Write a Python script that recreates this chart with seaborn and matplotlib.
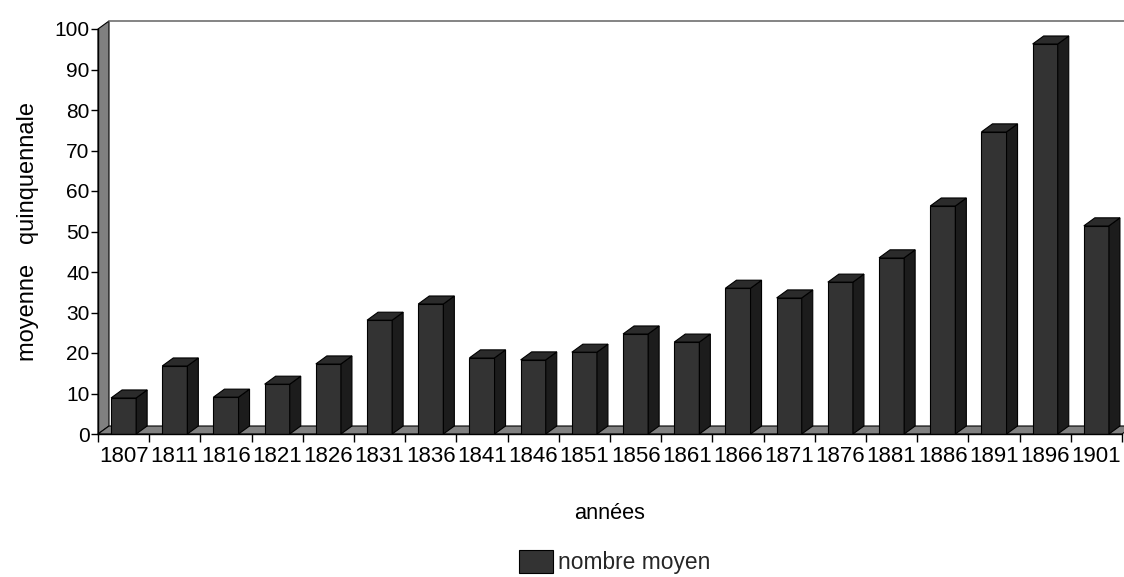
import matplotlib
matplotlib.use("Agg")
import matplotlib.pyplot as plt
import pandas as pd
import seaborn as sns
from matplotlib.patches import Polygon
from matplotlib import font_manager

# Moyenne quinquennale par période
annees = ["1807", "1811", "1816", "1821", "1826", "1831", "1836", "1841", "1846", "1851",
          "1856", "1861", "1866", "1871", "1876", "1881", "1886", "1891", "1896", "1901"]
valeurs = [8.9, 16.8, 9.1, 12.3, 17.3, 28.1, 32.1, 18.8, 18.3, 20.2,
           24.7, 22.7, 36.0, 33.6, 37.5, 43.5, 56.3, 74.6, 96.3, 51.4]
serie = "nombre moyen"
graduations = list(range(0, 101, 10))

sns.set_theme(style="ticks")
plt.rcParams["font.family"] = ["Liberation Sans", "DejaVu Sans"]

# narrow face for the year labels when available
noms = {f.name for f in font_manager.fontManager.ttflist}
etroite = "Liberation Sans Narrow" if "Liberation Sans Narrow" in noms else None

W, H = 1124, 577
fig = plt.figure(figsize=(W / 100, H / 100), dpi=100)
ax = fig.add_axes([98 / W, 143 / H, 1024 / W, 405 / H])

df = pd.DataFrame({"année": annees, "valeur": valeurs, "série": serie})
sns.barplot(data=df, x="année", y="valeur", hue="série", palette=["#333333"],
            saturation=1, width=0.49, edgecolor="black", linewidth=0.8,
            ax=ax, zorder=3)
barres = [p for c in ax.containers for p in c]

ax.set_xlim(-0.5, len(annees) - 0.5)
ax.set_ylim(0, 100)

# depth of the pseudo-3D look, in data units
DX = 11 / (1024 / len(annees))
DY = 8 / 4.05

grey = "#808080"
x0, x1 = -0.5, len(annees) - 0.5
# left wall
ax.add_patch(Polygon([(x0, 0), (x0, 100), (x0 + DX, 100 + DY), (x0 + DX, DY)],
                     closed=True, fc=grey, ec="black", lw=0.8, zorder=1, clip_on=False))
# floor
ax.add_patch(Polygon([(x0, 0), (x1, 0), (x1 + DX, DY), (x0 + DX, DY)],
                     closed=True, fc=grey, ec="black", lw=0.8, zorder=1, clip_on=False))
# top edge of the back wall
ax.plot([x0 + DX, x1 + DX + 1], [100 + DY, 100 + DY], color="#707070", lw=1.2,
        zorder=1, clip_on=False)

# top and side faces of every column
for p in barres:
    bx, bw, bh = p.get_x(), p.get_width(), p.get_height()
    top = Polygon([(bx, bh), (bx + bw, bh), (bx + bw + DX, bh + DY), (bx + DX, bh + DY)],
                  closed=True, fc="#2b2b2b", ec="black", lw=0.8, zorder=4, clip_on=False)
    side = Polygon([(bx + bw, 0), (bx + bw, bh), (bx + bw + DX, bh + DY), (bx + bw + DX, DY)],
                   closed=True, fc="#1c1c1c", ec="black", lw=0.8, zorder=4, clip_on=False)
    ax.add_patch(side)
    ax.add_patch(top)

for s in ("top", "right"):
    ax.spines[s].set_visible(False)
for s in ("left", "bottom"):
    ax.spines[s].set_color("black")
    ax.spines[s].set_linewidth(1.0)
    ax.spines[s].set_zorder(5)

ax.set_yticks(graduations)
ax.set_yticklabels([str(g) for g in graduations])
ax.tick_params(axis="y", left=True, direction="out", length=5, width=1,
               color="black", labelsize=15, pad=1, labelcolor="black")
ax.tick_params(axis="x", which="major", bottom=True, length=0,
               pad=9, labelcolor="black")
ax.set_xticks([i - 0.5 for i in range(len(annees) + 1)], minor=True)
ax.tick_params(axis="x", which="minor", bottom=True, direction="out", length=6,
               width=1, color="black")
for t in ax.get_xticklabels():
    if etroite:
        t.set_fontfamily([etroite, "Liberation Sans"])
        t.set_fontsize(18)
    else:
        t.set_fontsize(16)

ax.set_xlabel("années", fontsize=15.7, labelpad=25.5, color="black")
ax.set_ylabel("moyenne   quinquennale", fontsize=17, labelpad=11, color="black")

handles, labels = ax.get_legend_handles_labels()
if ax.get_legend() is not None:
    ax.get_legend().remove()
fig.legend(handles, labels, loc="center", bbox_to_anchor=(614.5 / W, 1 - 562 / H),
           frameon=False, fontsize=16.4, handlelength=1.5, handleheight=1.18,
           handletextpad=0.22)

fig.savefig("out.png", dpi=100)
